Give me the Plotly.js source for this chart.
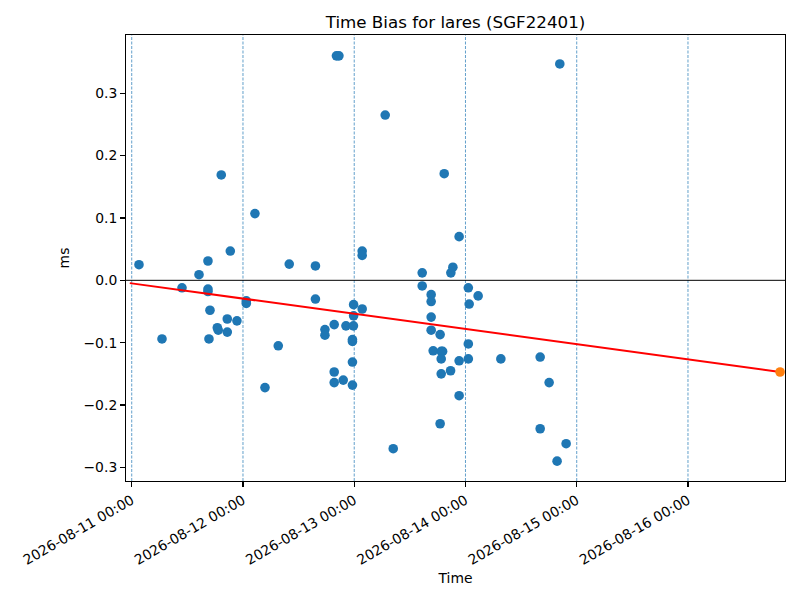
<!DOCTYPE html>
<html>
<head>
<meta charset="utf-8">
<script src="https://cdn.plot.ly/plotly-3.0.1.min.js"></script>
<style>html,body{margin:0;padding:0;background:#fff;}#chart{width:800px;height:600px;}</style>
</head>
<body>
<div id="chart"></div>
<script>
// Observed time-bias points (ms)
const obsTimes = [
  "2026-08-11 01:34","2026-08-11 06:32","2026-08-11 10:51","2026-08-11 14:31","2026-08-11 16:27",
  "2026-08-11 16:27","2026-08-11 16:27","2026-08-11 16:53","2026-08-11 16:40","2026-08-11 18:28",
  "2026-08-11 18:40","2026-08-11 19:19","2026-08-11 20:37","2026-08-11 20:37","2026-08-11 21:16",
  "2026-08-11 22:42","2026-08-12 00:43","2026-08-12 00:43","2026-08-12 02:35","2026-08-12 04:45",
  "2026-08-12 07:37","2026-08-12 09:59","2026-08-12 15:38","2026-08-12 15:38","2026-08-12 17:41",
  "2026-08-12 17:41","2026-08-12 19:41","2026-08-12 19:41","2026-08-12 19:41","2026-08-12 20:10",
  "2026-08-12 20:42","2026-08-12 21:38","2026-08-12 22:13","2026-08-12 23:50","2026-08-12 23:37",
  "2026-08-12 23:37","2026-08-12 23:37","2026-08-12 23:37","2026-08-12 23:52","2026-08-12 23:52",
  "2026-08-13 01:43","2026-08-13 01:43","2026-08-13 01:43","2026-08-13 06:41","2026-08-13 08:25",
  "2026-08-13 14:40","2026-08-13 14:40","2026-08-13 16:36","2026-08-13 16:36","2026-08-13 16:36",
  "2026-08-13 16:36","2026-08-13 18:32","2026-08-13 17:02","2026-08-13 18:46","2026-08-13 19:04",
  "2026-08-13 18:46","2026-08-13 18:46","2026-08-13 18:32","2026-08-13 19:25","2026-08-13 20:47",
  "2026-08-13 20:51","2026-08-13 21:17","2026-08-13 22:38","2026-08-13 22:38","2026-08-13 22:38",
  "2026-08-14 00:37","2026-08-14 00:37","2026-08-14 00:37","2026-08-14 00:48","2026-08-14 02:44",
  "2026-08-14 07:38","2026-08-14 16:07","2026-08-14 16:07","2026-08-14 18:03","2026-08-14 19:46",
  "2026-08-14 20:21","2026-08-14 21:43"
];
const obsBias = [
  0.025,-0.094,-0.012,0.009,0.031,
  -0.014,-0.018,-0.048,-0.094,-0.076,
  -0.080,0.169,-0.062,-0.083,0.047,
  -0.065,-0.033,-0.037,0.107,-0.172,
  -0.105,0.026,0.023,-0.030,-0.079,
  -0.088,-0.071,-0.147,-0.164,0.360,
  0.360,-0.160,-0.073,-0.073,-0.095,
  -0.098,-0.131,-0.168,-0.039,-0.057,
  -0.046,0.047,0.040,0.265,-0.270,
  0.012,-0.009,-0.023,-0.034,-0.059,
  -0.080,-0.087,-0.113,-0.114,-0.114,
  -0.126,-0.150,-0.230,0.171,-0.145,
  0.012,0.021,0.070,-0.129,-0.185,
  -0.126,-0.102,-0.012,-0.038,-0.025,
  -0.126,-0.123,-0.238,-0.164,-0.290,
  0.347,-0.262
];
// Predicted point
const predTime = ["2026-08-16 19:52"];
const predBias = [-0.147];
// Fit line endpoints
const fitTimes = ["2026-08-10 23:35", "2026-08-16 19:52"];
const fitBias = [-0.0045, -0.147];
// Day markers
const dayLines = ["2026-08-11","2026-08-12","2026-08-13","2026-08-14","2026-08-15","2026-08-16"];
const yTicks = [-0.3,-0.2,-0.1,0.0,0.1,0.2,0.3];
const xRange = ["2026-08-10 22:46","2026-08-16 20:56"];
const yRange = [-0.3218, 0.3934];

const shapes = dayLines.map(d => ({
  type:'line', xref:'x', yref:'paper', x0:d, x1:d, y0:0, y1:1,
  line:{color:'#1f77b4', width:0.7, dash:'3px,1.5px'}, layer:'below'
}));
shapes.push({type:'line', xref:'paper', yref:'y', x0:0, x1:1, y0:0, y1:0,
  line:{color:'#000000', width:1}, layer:'below'});

const traces = [
  {x:obsTimes, y:obsBias, type:'scatter', mode:'markers',
   marker:{color:'#1f77b4', size:9.6}},
  {x:fitTimes, y:fitBias, type:'scatter', mode:'lines',
   line:{color:'#ff0000', width:2}},
  {x:predTime, y:predBias, type:'scatter', mode:'markers',
   marker:{color:'#ff7f0e', size:9.6}}
];

const layout = {
  width:800, height:600,
  margin:{l:126, r:15, t:35, b:119},
  paper_bgcolor:'#fff', plot_bgcolor:'#fff',
  font:{family:'DejaVu Sans', size:14, color:'#000'},
  showlegend:false, hovermode:false,
  title:{text:'Time Bias for lares (SGF22401)', font:{size:16.7, family:'DejaVu Sans'},
         x:0.5, xref:'paper', y:1-22/600, yref:'container', yanchor:'middle'},
  xaxis:{
    type:'date', range:xRange, tick0:'2026-08-11', dtick:86400000,
    tickformat:'%Y-%m-%d %H:%M', tickangle:-30,
    showgrid:false, zeroline:false,
    showline:true, mirror:true, linecolor:'#000', linewidth:1.1,
    ticks:'outside', ticklen:4.9, tickwidth:1.1, tickcolor:'#000',
    tickfont:{size:13.9},
    title:{text:'Time', font:{size:13.9}, standoff:6}
  },
  yaxis:{
    range:yRange, tickvals:yTicks, tickformat:'.1f',
    showgrid:false, zeroline:false,
    showline:true, mirror:true, linecolor:'#000', linewidth:1.1,
    ticks:'outside', ticklen:4.9, tickwidth:1.1, tickcolor:'#000',
    tickfont:{size:13.9},
    title:{text:'ms', font:{size:13.9}, standoff:10}
  },
  shapes:shapes
};

Plotly.newPlot('chart', traces, layout, {displayModeBar:false, staticPlot:true});
</script>
</body>
</html>
